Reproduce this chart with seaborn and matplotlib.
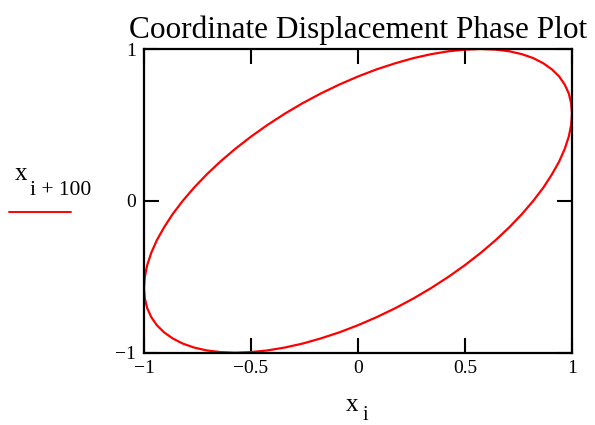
import matplotlib
matplotlib.use("Agg")
import matplotlib.pyplot as plt
from matplotlib.lines import Line2D
import seaborn as sns
import pandas as pd

# Phase-plot samples: displacement x_i against the displacement 100 steps later
x_i = [1.000, 0.996, 0.985, 0.966, 0.940, 0.906, 0.866, 0.819, 0.766, 0.707,
       0.643, 0.574, 0.500, 0.423, 0.342, 0.259, 0.174, 0.087, 0.000, -0.087,
       -0.174, -0.259, -0.342, -0.423, -0.500, -0.574, -0.643, -0.707, -0.766,
       -0.819, -0.866, -0.906, -0.940, -0.966, -0.985, -0.996, -1.000, -0.996,
       -0.985, -0.966, -0.940, -0.906, -0.866, -0.819, -0.766, -0.707, -0.643,
       -0.574, -0.500, -0.423, -0.342, -0.259, -0.174, -0.087, 0.000, 0.087,
       0.174, 0.259, 0.342, 0.423, 0.500, 0.574, 0.643, 0.707, 0.766, 0.819,
       0.866, 0.906, 0.940, 0.966, 0.985, 0.996, 1.000]
x_i100 = [0.574, 0.643, 0.707, 0.766, 0.819, 0.866, 0.906, 0.940, 0.966, 0.985,
          0.996, 1.000, 0.996, 0.985, 0.966, 0.940, 0.906, 0.866, 0.819, 0.766,
          0.707, 0.643, 0.574, 0.500, 0.423, 0.342, 0.259, 0.174, 0.087,
          0.000, -0.087, -0.174, -0.259, -0.342, -0.423, -0.500, -0.574, -0.643,
          -0.707, -0.766, -0.819, -0.866, -0.906, -0.940, -0.966, -0.985, -0.996,
          -1.000, -0.996, -0.985, -0.966, -0.940, -0.906, -0.866, -0.819, -0.766,
          -0.707, -0.643, -0.574, -0.500, -0.423, -0.342, -0.259, -0.174, -0.087,
          0.000, 0.087, 0.174, 0.259, 0.342, 0.423, 0.500, 0.574]

x_ticks = [-1, -0.5, 0, 0.5, 1]
x_tick_labels = ["\u22121", "\u22120.5", "0", "0.5", "1"]
y_ticks = [-1, 0, 1]
y_tick_labels = ["\u22121", "0", "1"]

title = "Coordinate Displacement Phase Plot"

sns.set_style("white")
plt.rcParams["font.family"] = ["Liberation Serif", "DejaVu Serif"]
plt.rcParams["text.color"] = "black"

df = pd.DataFrame({"x": x_i, "y": x_i100})

W, H = 595, 425
fig = plt.figure(figsize=(W / 100, H / 100), dpi=100)
ax = fig.add_axes([144 / W, 1 - 352.7 / H, 428 / W, 303.7 / H])

sns.lineplot(data=df, x="x", y="y", sort=False, estimator=None,
             color="#ff0000", linewidth=1.6, ax=ax)
for ln in ax.lines:
    ln.set_solid_joinstyle("round")

ax.set_xlim(-1, 1)
ax.set_ylim(-1, 1)
ax.set_xticks(x_ticks)
ax.set_xticklabels(x_tick_labels)
ax.set_yticks(y_ticks)
ax.set_yticklabels(y_tick_labels)
ax.set_xlabel("")
ax.set_ylabel("")

for s in ax.spines.values():
    s.set_visible(True)
    s.set_color("black")
    s.set_linewidth(1.6)

ax.tick_params(axis="both", direction="in", length=11, width=1.5,
               bottom=True, left=True, top=True, right=True,
               labelsize=14, colors="black")
ax.tick_params(axis="x", pad=5)
ax.tick_params(axis="y", pad=6)

ax.set_title(title, fontsize=22.5, pad=8, color="black")

# axis captions with subscripts
fig.text(21 / W, 1 - 174 / H, "x", fontsize=18, ha="center", va="center", color="black")
fig.text(61 / W, 1 - 190.5 / H, "i + 100", fontsize=15.5, ha="center", va="center", color="black")
fig.add_artist(Line2D([9 / W, 71 / W], [1 - 212 / H, 1 - 212 / H],
                      color="#ff0000", linewidth=1.4))
fig.text(352 / W, 1 - 405 / H, "x", fontsize=18, ha="center", va="center", color="black")
fig.text(365 / W, 1 - 416 / H, "i", fontsize=14.5, ha="center", va="center", color="black")

fig.savefig("out.png", dpi=100)
